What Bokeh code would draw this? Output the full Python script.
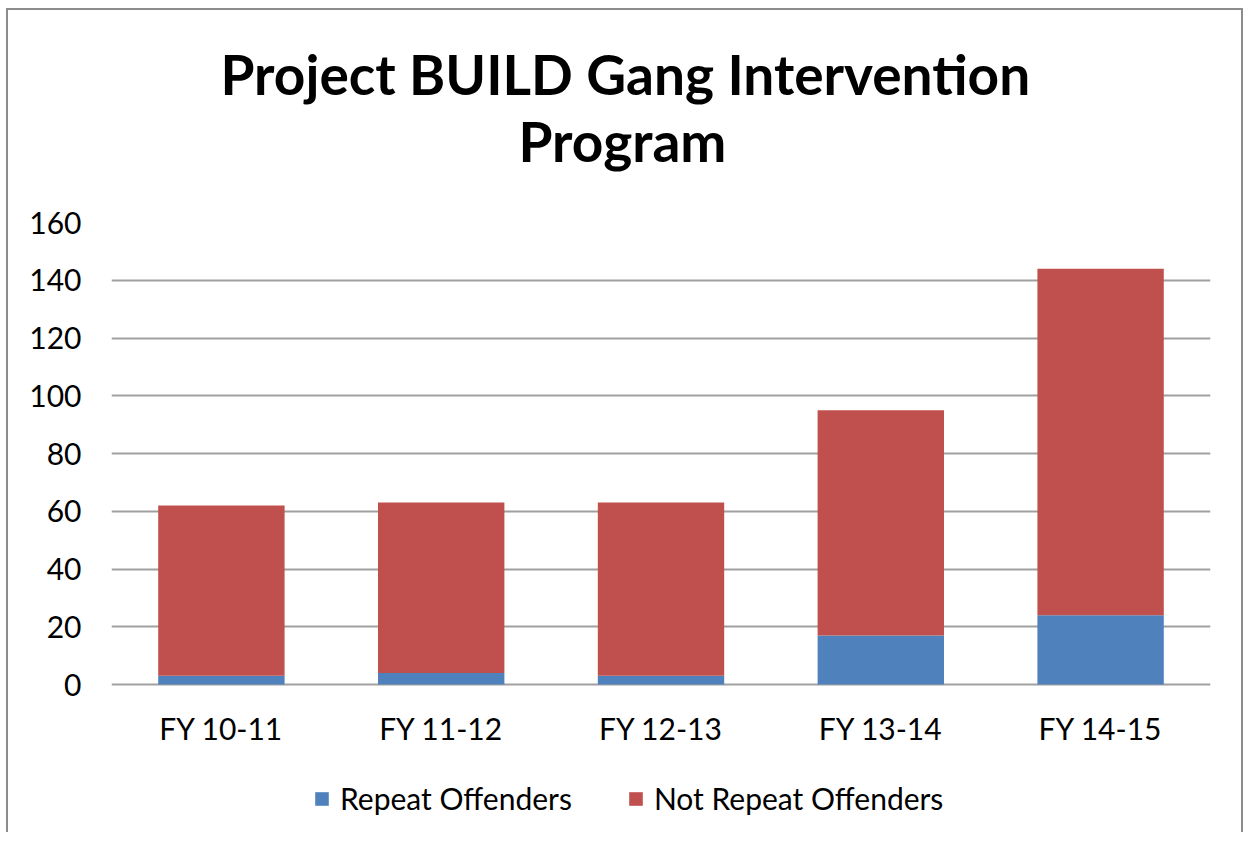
from bokeh.plotting import figure
from bokeh.models import FactorRange, Legend, LegendItem, Title, ColumnDataSource
from bokeh.core.properties import value
from bokeh.embed import file_html
from bokeh.resources import INLINE

categories = ["FY 10-11", "FY 11-12", "FY 12-13", "FY 13-14", "FY 14-15"]
repeat_offenders = [3, 4, 3, 17, 24]
not_repeat_offenders = [59, 59, 60, 78, 120]
series_names = ["Repeat Offenders", "Not Repeat Offenders"]
series_colors = ["#4F81BD", "#C0504D"]
y_ticks = [0, 20, 40, 60, 80, 100, 120, 140, 160]
title_lines = ["Project BUILD Gang Intervention", "Program"]

src = ColumnDataSource(data={
    "cat": categories,
    series_names[0]: repeat_offenders,
    series_names[1]: not_repeat_offenders,
})

FONT = "Lato"
# extra room below the zero line for category labels and legend
Y_MIN = -51.25
LABEL_Y = -14.9

p = figure(
    x_range=FactorRange(*categories),
    y_range=(Y_MIN, 160),
    frame_width=1099,
    frame_height=610,
    min_border_left=103,
    min_border_right=31,
    min_border_top=212,
    min_border_bottom=0,
    x_axis_location=None,
    output_backend="svg",
    toolbar_location=None,
    background_fill_color="white",
    border_fill_color="white",
)
p.styles = {
    "margin-left": "6px",
    "margin-top": "8px",
    "border-left": "2px solid #8c8c8c",
    "border-top": "2px solid #8c8c8c",
    "border-right": "2px solid #8c8c8c",
}

renderers = p.vbar_stack(
    series_names, x="cat", width=0.575, color=series_colors, source=src,
    line_color=None,
)

# category labels under the zero line
lab_src = ColumnDataSource(data={"cat": categories, "y": [LABEL_Y] * len(categories)})
p.text(x="cat", y="y", text="cat", source=lab_src, text_align="center",
       text_baseline="middle", text_font=value(FONT), text_font_size="30px",
       text_color="black")

# Titles (added inner first, outer last)
t2 = Title(text=title_lines[1], align="left", text_font=FONT,
           text_font_size="55px", text_font_style="bold", text_color="black",
           offset=407, standoff=98)
p.add_layout(t2, "above")
t1 = Title(text=title_lines[0], align="left", text_font=FONT,
           text_font_size="55px", text_font_style="bold", text_color="black",
           offset=109, standoff=-100)
p.add_layout(t1, "above")

p.outline_line_color = None
p.xgrid.grid_line_color = None
p.ygrid.grid_line_color = "#a0a0a0"
p.ygrid.grid_line_width = 2

p.yaxis.ticker = y_ticks
p.yaxis.axis_line_color = None
p.yaxis.major_tick_line_color = None
p.yaxis.minor_tick_line_color = None
p.yaxis.major_label_text_font = FONT
p.yaxis.major_label_text_font_size = "30px"
p.yaxis.major_label_text_color = "black"
p.yaxis.major_label_standoff = 24

legend = Legend(
    items=[LegendItem(label=series_names[i], renderers=[renderers[i]]) for i in range(2)],
    orientation="horizontal",
    location=(202, 16),
    border_line_color=None,
    background_fill_alpha=0,
    label_text_font=FONT,
    label_text_font_size="30px",
    label_text_color="black",
    glyph_width=17,
    glyph_height=17,
    spacing=55,
    label_standoff=10,
    padding=0,
    margin=0,
)
p.add_layout(legend, "center")

open("out.html", "w").write(file_html(p, INLINE))
